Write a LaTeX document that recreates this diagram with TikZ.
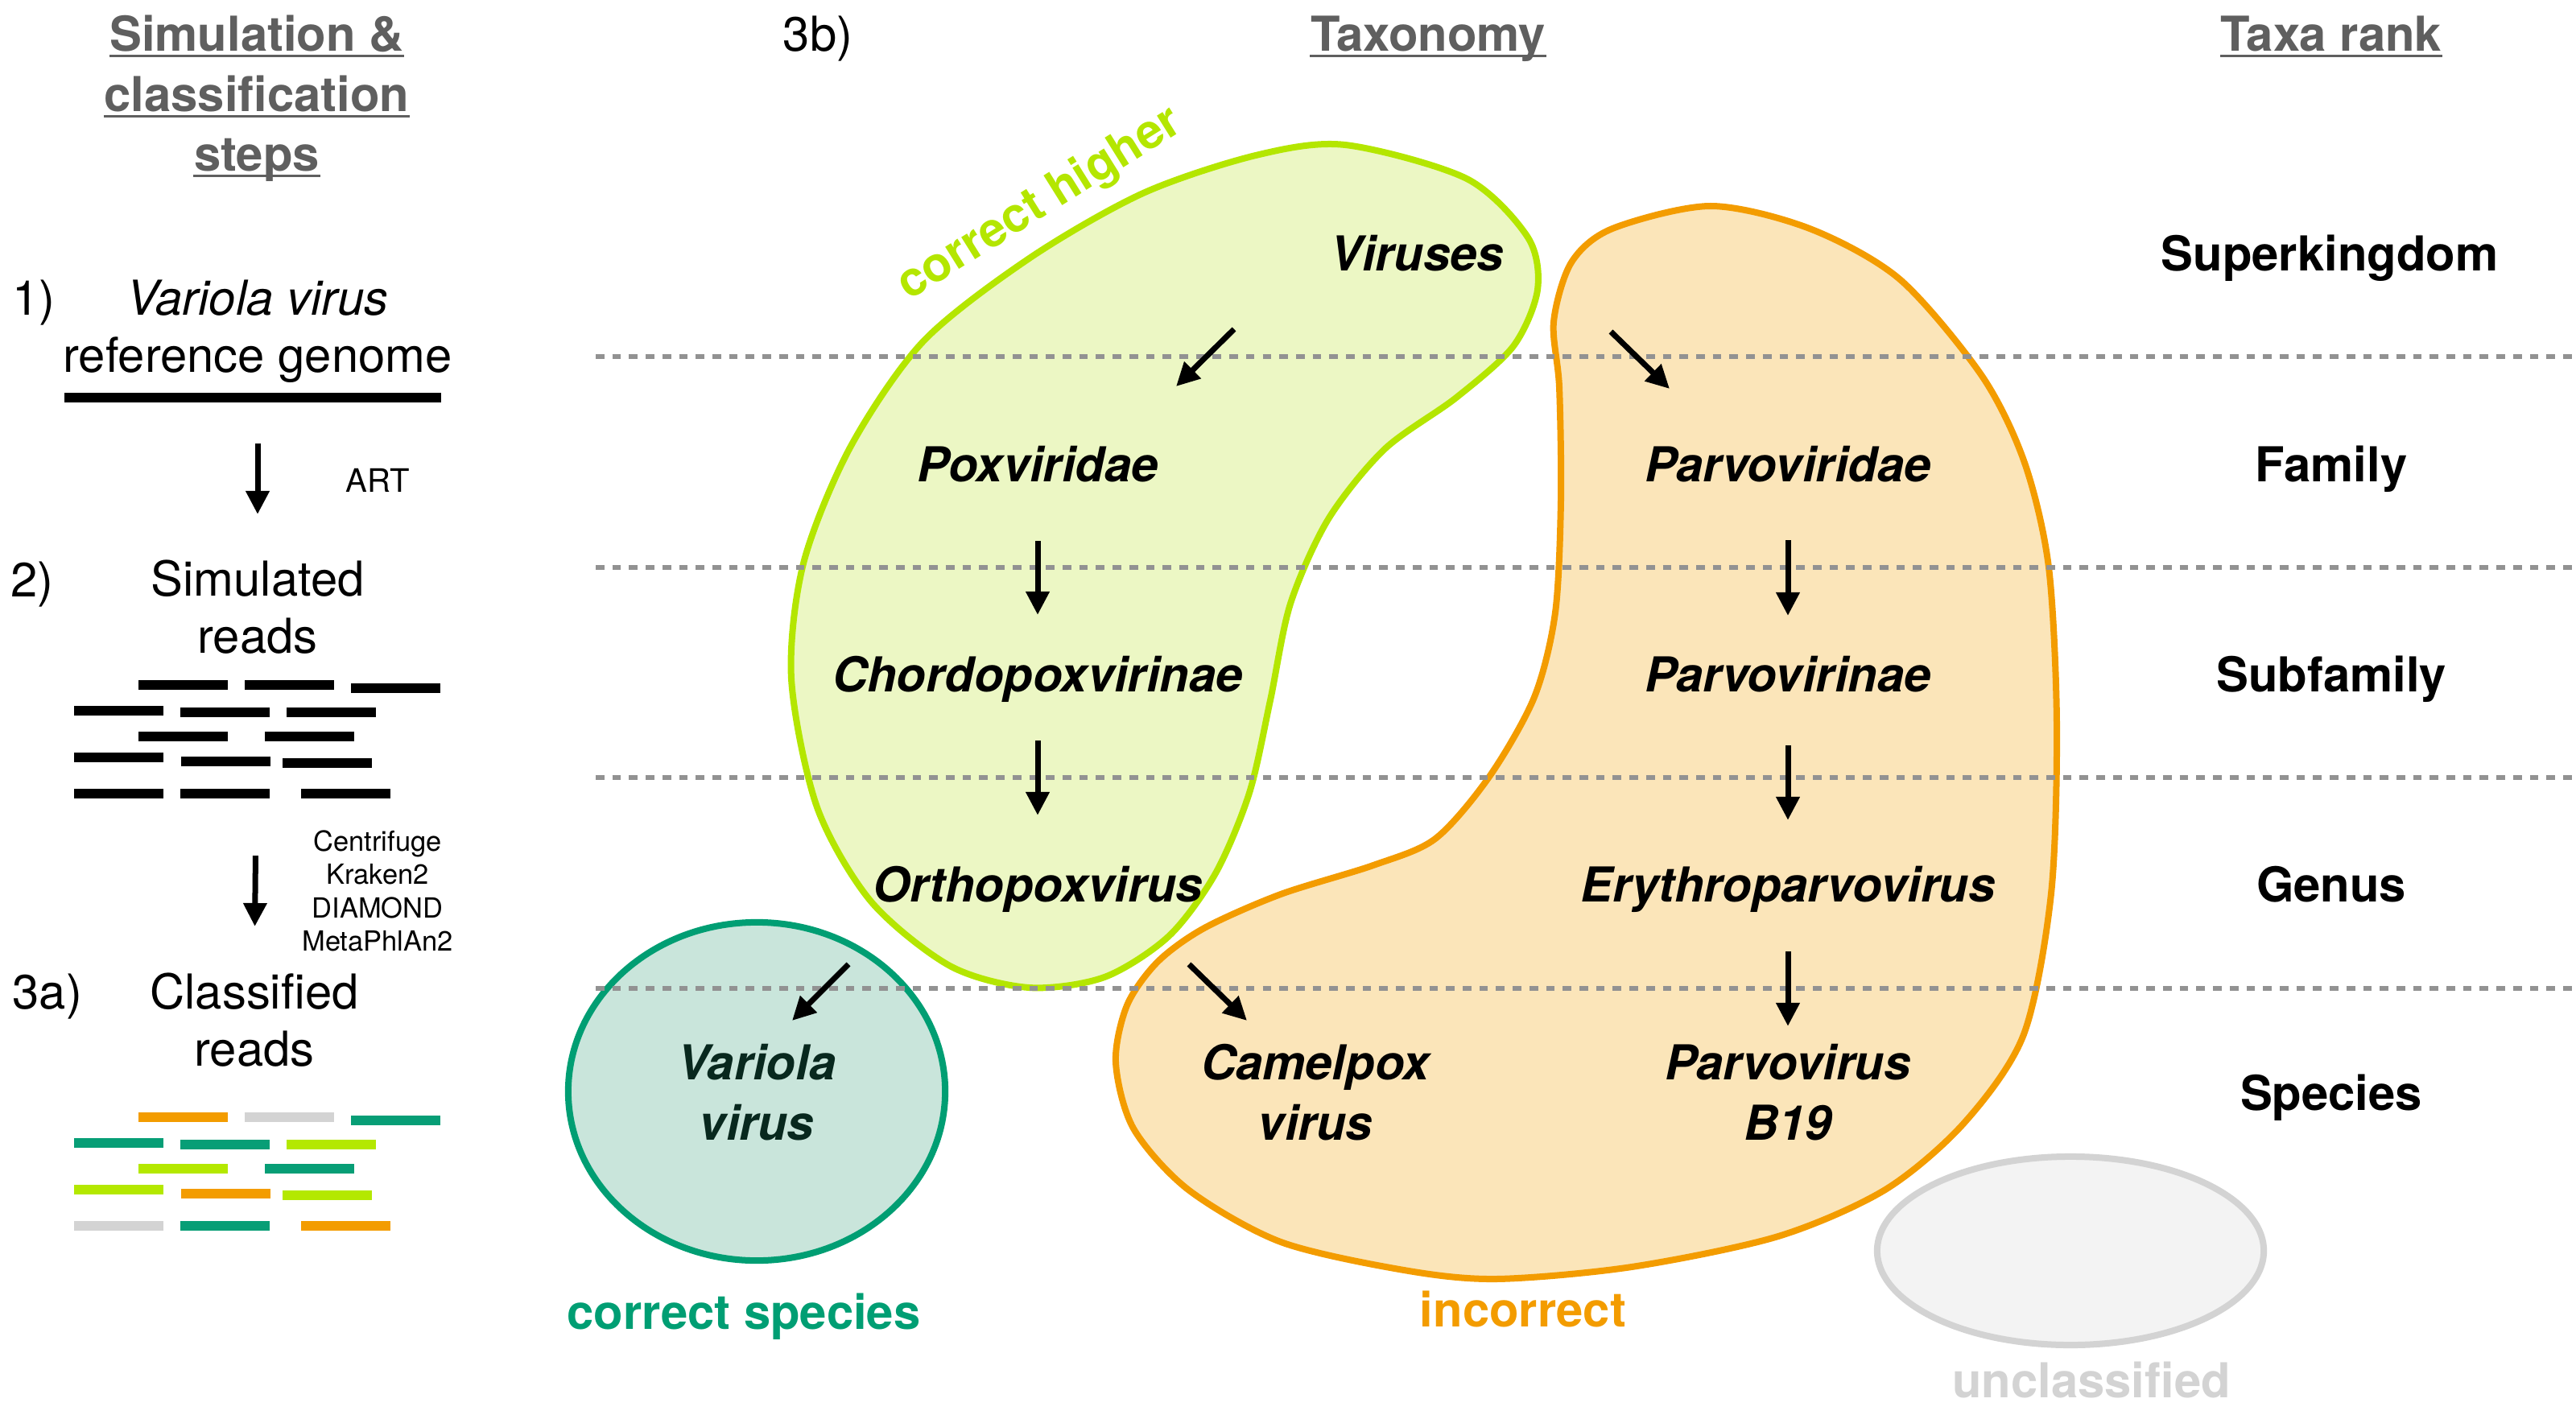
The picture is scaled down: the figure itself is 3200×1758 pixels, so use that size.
\documentclass[tikz,border=0pt]{standalone}
\usepackage{fontspec}
\setmainfont{TeX Gyre Heros}
\usetikzlibrary{arrows.meta,calc}

\definecolor{headgray}{RGB}{95,95,95}
\definecolor{dashgray}{RGB}{146,146,146}
\definecolor{limeline}{RGB}{180,230,0}
\definecolor{limefill}{RGB}{236,247,196}
\definecolor{orangeline}{RGB}{243,156,0}
\definecolor{orangefill}{RGB}{251,229,185}
\definecolor{tealline}{RGB}{0,158,115}
\definecolor{tealfill}{RGB}{201,229,219}
\definecolor{grayline}{RGB}{211,211,211}
\definecolor{grayfill}{RGB}{243,243,243}
\definecolor{variolatext}{RGB}{8,40,30}
\definecolor{rdorange}{RGB}{243,156,0}
\definecolor{rdgray}{RGB}{211,211,211}
\definecolor{rdgreen}{RGB}{7,158,118}
\definecolor{rdlime}{RGB}{180,232,0}

\begin{document}
\begin{tikzpicture}[
    x=0.01cm, y=-0.01cm,
    >={Triangle[length=0.29cm,width=0.28cm]},
    every node/.style={inner sep=0pt},
    txt/.style={font=\fontsize{17}{20.2}\selectfont},
    head/.style={font=\fontsize{17}{20}\selectfont\bfseries, text=headgray, anchor=base},
    uline/.style={headgray, line width=0.03cm},
    tax/.style={font=\fontsize{17}{21.3}\selectfont\bfseries\itshape},
    rank/.style={font=\fontsize{17}{20}\selectfont\bfseries, anchor=base},
    lbl/.style={font=\fontsize{17}{20}\selectfont\bfseries},
    tool/.style={font=\fontsize{9.8}{11.8}\selectfont, align=center},
    arr/.style={->, line width=0.07cm},
    read/.style={line width=0.12cm},
    rankline/.style={dashgray, line width=0.06cm, dash pattern=on 0.107cm off 0.1cm},
    blob/.style={line width=0.08cm}
]
\useasboundingbox (0,0) rectangle (3200,1758);

% outcome areas
\draw[blob, draw=limeline, fill=limefill] plot[smooth cycle] coordinates {
    (1671,180) (1822,222) (1898,295) (1910,360) (1880,430) (1809,494)
    (1720,558) (1650,645) (1603,750) (1578,870) (1552,985) (1510,1085)
    (1452,1163) (1372,1214) (1278,1227) (1180,1200) (1082,1120) (1015,1003)
    (983,843) (998,700) (1056,556) (1147,424) (1280,320) (1420,240) (1560,193)};
\draw[blob, draw=orangeline, fill=orangefill] plot[smooth cycle] coordinates {
    (2125,256) (2248,284) (2360,347) (2462,467) (2515,575) (2545,705)
    (2555,900) (2548,1110) (2514,1285) (2440,1395) (2342,1478) (2209,1536)
    (2027,1574) (1859,1589) (1744,1578) (1591,1543) (1476,1478) (1408,1402)
    (1386,1320) (1400,1249) (1438,1195) (1496,1153) (1591,1111) (1706,1075)
    (1783,1042) (1850,965) (1906,866) (1932,761) (1939,621) (1937,481)
    (1930,400) (1952,326) (2003,284)};
\draw[blob, draw=tealline, fill=tealfill] (940,1356) ellipse [x radius=2.34cm, y radius=2.1cm];
\draw[blob, draw=grayline, fill=grayfill] (2572,1554) ellipse [x radius=2.4cm, y radius=1.17cm];

% rank separators
\foreach \y in {443,705,966,1228}
    \draw[rankline] (740,\y) -- (3200,\y);

% headers
\node[head] (h1) at (319,64) {Simulation \&};
\node[head] (h2) at (319,138.5) {classification};
\node[head] (h3) at (319,212.5) {steps};
\node[txt, anchor=base] (lab3b) at (1016,64) {3b)};
\node[head] (taxh) at (1774,64) {Taxonomy};
\node[head] (rankh) at (2896,64) {Taxa rank};
\foreach \n in {h1,h2,h3,taxh,rankh}
    \draw[uline] ([yshift=-0.06cm]\n.base west) -- ([yshift=-0.06cm]\n.base east);

% simulation steps
\node[txt, anchor=base west] (n1) at (15,392) {1)};
\node[txt, anchor=base west] (n2) at (13,741) {2)};
\node[txt, anchor=base west] (n3) at (15,1253) {3a)};
\node[txt, align=center] (ref) at (320,412) {\textit{Variola virus}\\reference genome};
\node[txt, align=center] (sim) at (320,754) {Simulated\\reads};
\node[txt, align=center] (cls) at (316,1267) {Classified\\reads};
\node[font=\fontsize{11.4}{13}\selectfont, anchor=base] (art) at (469,611) {ART};
\node[tool] (tools) at (469,1107) {Centrifuge\\Kraken2\\DIAMOND\\MetaPhlAn2};

\draw[line width=0.126cm] (80,494) -- (548,494);
\foreach \xa/\ya/\rc in {172/851/rdorange, 304/851/rdgray, 436/855/rdgreen,
        92/883/rdgreen, 224/885/rdgreen, 356/885/rdlime, 172/915/rdlime, 329/915/rdgreen,
        92/941/rdlime, 225/946/rdorange, 351/948/rdlime, 92/986/rdgray, 224/986/rdgreen,
        374/986/rdorange} {
    \draw[read] (\xa,\ya) -- ++(111,0);
    \draw[read, \rc] (\xa,\ya+537) -- ++(111,0);
}

\draw[arr, shorten <=0.74cm, shorten >=0.56cm] (ref.south) -- (sim.north);
\draw[arr, shorten <=2.5cm, shorten >=0.57cm] (sim.south) -- (cls.north);

% taxonomy
\node[tax, anchor=base] (vir) at (1760,337) {Viruses};
\node[tax, anchor=base] (pox) at (1289,598) {Poxviridae};
\node[tax, anchor=base] (chordo) at (1289,859) {Chordopoxvirinae};
\node[tax, anchor=base] (ortho) at (1289,1120) {Orthopoxvirus};
\node[tax, align=center, text=variolatext] (variola) at (940,1357) {Variola\\virus};
\node[tax, anchor=base] (parvo) at (2221,598) {Parvoviridae};
\node[tax, anchor=base] (parvin) at (2221,859) {Parvovirinae};
\node[tax, anchor=base] (erythro) at (2221,1120) {Erythroparvovirus};
\node[tax, align=center] (camel) at (1634,1357) {Camelpox\\virus};
\node[tax, align=center] (b19) at (2221,1357) {Parvovirus\\B19};

\draw[arr] ($(vir.base)+(-227,72)$) -- ($(pox.base)+(172,-118)$);
\draw[arr] ($(vir.base)+(241,75)$) -- ($(parvo.base)+(-147,-115)$);
\draw[arr, shorten <=0.74cm, shorten >=0.95cm] (pox.base) -- (chordo.base);
\draw[arr, shorten <=0.61cm, shorten >=1.07cm] (chordo.base) -- (ortho.base);
\draw[arr] ($(ortho.base)+(-235,78)$) -- ($(variola.center)+(44,-89)$);
\draw[arr] ($(ortho.base)+(188,78)$) -- ($(camel.center)+(-85,-89)$);
\draw[arr, shorten <=0.73cm, shorten >=0.94cm] (parvo.base) -- (parvin.base);
\draw[arr, shorten <=0.67cm, shorten >=1.01cm] (parvin.base) -- (erythro.base);
\draw[arr, shorten <=0.62cm, shorten >=0.82cm] (erythro.base) -- (b19.center);

% ranks
\node[rank] (sk) at (2894,337) {Superkingdom};
\node[rank] (fam) at (2896,598) {Family};
\node[rank] (subfam) at (2896,859) {Subfamily};
\node[rank] (gen) at (2896,1120) {Genus};
\node[rank] (spec) at (2896,1379) {Species};

% outcome labels
\node[lbl, text=limeline, rotate=32] (hilab) at (1292,254) {correct higher};
\node[lbl, text=tealline, anchor=base] (splab) at (924,1651) {correct species};
\node[lbl, text=orangeline, anchor=base] (inlab) at (1892,1648) {incorrect};
\node[lbl, text=grayline, anchor=base] (unlab) at (2598,1736) {unclassified};

\end{tikzpicture}
\end{document}
